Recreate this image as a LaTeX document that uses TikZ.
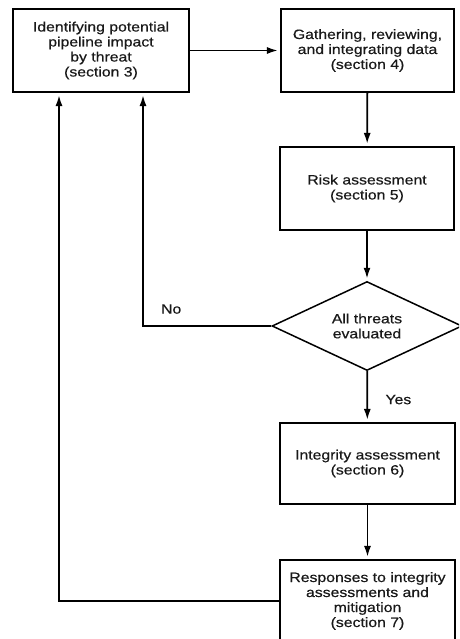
\documentclass[tikz,border=0pt]{standalone}
\usepackage{fontspec}
\setmainfont{Liberation Sans}[FakeStretch=1.17, FakeBold=0.5]
\usetikzlibrary{positioning,shapes.geometric,arrows.meta}

\begin{document}
\begin{tikzpicture}[
		x=1pt, y=1pt,
		node distance=1.5cm and 1cm,
		ar/.style={-{Latex[length=11pt,width=7pt]}, line width=1.8pt, shorten >=2pt},
		stepbox/.style={draw, line width=2.1pt, minimum width=174pt, minimum height=83pt, align=center,
			font=\fontsize{13.5}{15}\selectfont, text=black!90},
		decision/.style={draw, diamond, line width=1.5pt, minimum width=190pt, minimum height=89pt, aspect=2.13,
			inner sep=0pt, align=center, font=\fontsize{13.5}{15}\selectfont, text=black!90},
		lbl/.style={font=\fontsize{13.5}{15}\selectfont, text=black!90}
	]
		\useasboundingbox (0,0) rectangle (459,-639);
		\clip (0,0) rectangle (459,-639);
		\node[stepbox, minimum width=176pt] (threat) at (101,-50.5) {Identifying potential\\pipeline impact\\by threat\\(section 3)};
		\node[stepbox, minimum width=173pt] (data) at (367.5,-50.5) {Gathering, reviewing,\\and integrating data\\(section 4)};
		\node[stepbox] (risk) at (367,-188.5) {Risk assessment\\(section 5)};
		\node[decision] (alldone) at (367,-326) {All threats\\evaluated};
		\node[stepbox, minimum width=175pt, minimum height=81pt] (integrity) at (367.5,-463.5) {Integrity assessment\\(section 6)};
		\node[stepbox, minimum width=175pt, minimum height=82pt] (respond) at (367.5,-601) {Responses to integrity\\assessments and\\mitigation\\(section 7)};
		% main flow
		\draw[ar] (threat) -- (data);
		\draw[ar] (data) -- (risk);
		\draw[ar] (risk) -- (alldone);
		\draw[ar] (alldone) -- node[lbl, right=14pt, yshift=-3pt] {Yes} (integrity);
		\draw[ar] (integrity) -- (respond);
		% loops back
		\draw[ar] (alldone.west) -| node[lbl, pos=0.39, above=8pt] {No} ([xshift=42pt]threat.south);
		\draw[ar] (respond.west) -| ([xshift=-42pt]threat.south);
	\end{tikzpicture}
\end{document}
